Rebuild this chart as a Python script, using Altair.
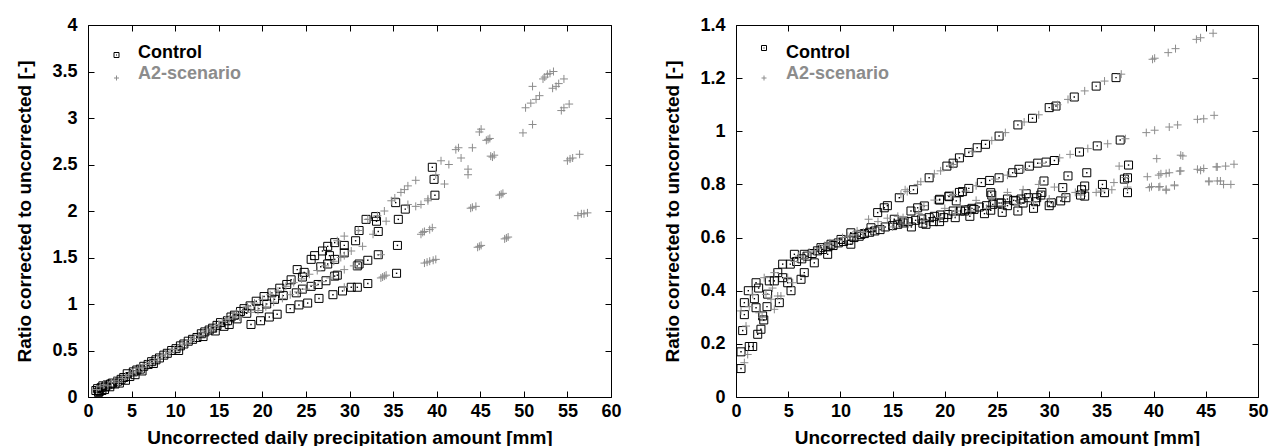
import altair as alt
import pandas as pd

FONT = "Liberation Sans"
GRAY = "#8c8c8c"

# ---------------- Left panel ----------------
ctrl_L = [
    (0.9, 0.07), (1.1, 0.09), (1.2, 0.05), (1.3, 0.06), (1.5, 0.10), (1.6, 0.07), (1.7, 0.12), (1.9, 0.08),
    (2.0, 0.11), (2.2, 0.13), (2.5, 0.11), (2.6, 0.14), (2.8, 0.15), (3.1, 0.14), (3.4, 0.17), (3.6, 0.15),
    (3.8, 0.19), (4.1, 0.21), (4.3, 0.18), (4.5, 0.25), (4.8, 0.22), (5.2, 0.27), (5.4, 0.24), (5.6, 0.29),
    (6.0, 0.30), (6.2, 0.28), (6.4, 0.33), (6.9, 0.35), (7.3, 0.38), (7.5, 0.36), (7.8, 0.40), (8.2, 0.42),
    (8.7, 0.45), (9.1, 0.47), (9.6, 0.50), (10.1, 0.52), (10.4, 0.50), (10.6, 0.55), (11.0, 0.57), (11.5, 0.60),
    (12.0, 0.62), (12.5, 0.64), (13.0, 0.68), (13.2, 0.65), (13.4, 0.70), (13.9, 0.72), (14.3, 0.74), (14.6, 0.71),
    (14.8, 0.77), (15.2, 0.80), (15.6, 0.76), (16.0, 0.82), (16.2, 0.78), (16.4, 0.86), (16.8, 0.88), (17.1, 0.84),
    (17.5, 0.92), (17.9, 0.95), (18.2, 0.90), (18.6, 0.98), (18.7, 0.78), (19.3, 1.03), (19.6, 0.95), (19.8, 0.82),
    (20.2, 1.08), (20.5, 1.00), (20.8, 0.86), (21.1, 1.12), (21.4, 1.05), (21.7, 0.89), (22.0, 1.17), (22.4, 1.09),
    (22.8, 1.21), (23.2, 0.95), (23.3, 1.26), (23.9, 1.12), (24.0, 1.37), (24.2, 0.99), (24.6, 1.29), (24.6, 1.16),
    (24.8, 1.34), (25.2, 1.01), (25.6, 1.19), (25.6, 1.48), (26.0, 1.52), (26.4, 1.21), (26.5, 1.06), (26.7, 1.40),
    (26.9, 1.57), (27.3, 1.25), (27.5, 1.43), (27.5, 1.62), (27.7, 1.52), (28.1, 1.10), (28.3, 1.30), (28.3, 1.48),
    (28.3, 1.66), (28.6, 1.31), (29.2, 1.14), (29.4, 1.55), (29.4, 1.63), (30.2, 1.18), (30.7, 1.68), (30.9, 1.18),
    (30.9, 1.41), (31.1, 1.43), (31.1, 1.79), (31.9, 1.91), (32.1, 1.22), (32.1, 1.47), (33.0, 1.94), (33.1, 1.89),
    (33.3, 1.53), (33.3, 1.78), (35.3, 2.09), (35.4, 1.33), (35.5, 1.63), (35.6, 1.91), (36.4, 2.02), (39.5, 2.47),
    (39.7, 2.34), (39.8, 2.17),
]

a2_L = [
    (1.0, 0.08), (1.4, 0.11), (1.8, 0.13), (2.3, 0.12), (2.7, 0.16), (3.0, 0.18), (3.5, 0.16), (3.9, 0.20),
    (4.3, 0.22), (4.7, 0.24), (5.1, 0.26), (5.5, 0.28), (5.9, 0.31), (6.3, 0.32), (6.7, 0.35), (7.1, 0.37),
    (7.6, 0.39), (8.0, 0.41), (8.5, 0.44), (8.9, 0.46), (9.4, 0.48), (9.9, 0.51), (10.3, 0.53), (10.8, 0.56),
    (11.3, 0.58), (11.8, 0.61), (12.2, 0.63), (12.7, 0.66), (13.2, 0.69), (13.6, 0.71), (14.1, 0.73), (14.6, 0.76),
    (15.0, 0.78), (15.4, 0.81), (15.8, 0.83), (16.2, 0.84), (16.6, 0.87), (17.0, 0.90), (17.4, 0.86), (17.8, 0.93),
    (18.3, 0.97), (18.7, 0.91), (19.1, 1.01), (19.5, 0.93), (20.0, 1.05), (20.4, 0.97), (20.9, 1.10), (21.3, 1.02),
    (21.8, 1.14), (22.3, 1.06), (22.7, 1.19), (23.2, 1.10), (23.6, 1.23), (24.1, 1.13), (24.5, 1.27), (25.0, 1.16),
    (25.4, 1.32), (25.9, 1.20), (26.3, 1.36), (26.8, 1.24), (27.2, 1.41), (27.8, 1.28), (28.2, 1.46), (28.6, 1.68),
    (29.0, 1.50), (29.4, 1.73), (29.4, 1.18), (29.4, 1.37), (29.4, 1.52), (30.2, 1.57), (30.5, 1.41), (31.0, 1.79),
    (31.5, 1.62), (32.1, 1.91), (32.7, 1.75), (33.2, 1.95), (33.6, 1.53), (33.6, 1.28), (33.8, 1.29), (34.0, 2.00),
    (34.0, 1.30), (34.2, 1.31), (34.2, 1.89), (34.8, 2.11), (35.2, 2.14), (35.9, 2.20), (36.3, 2.23), (36.7, 2.27),
    (36.7, 2.07), (37.6, 2.33), (37.6, 2.05), (38.2, 1.75), (38.2, 2.07), (38.4, 1.77), (38.6, 1.44), (38.6, 1.78),
    (38.9, 1.45), (39.0, 2.11), (39.0, 2.13), (39.2, 1.80), (39.2, 1.46), (39.5, 1.82), (39.6, 1.47), (39.9, 1.48),
    (39.9, 2.39), (40.5, 2.54), (40.9, 2.29), (41.4, 2.50), (42.2, 2.66), (42.5, 2.68), (42.8, 2.57), (43.6, 2.45),
    (43.6, 2.39), (43.9, 2.03), (44.1, 2.68), (44.1, 2.04), (44.5, 2.05), (44.7, 1.61), (44.9, 1.62), (44.9, 2.85),
    (45.1, 2.88), (45.1, 1.63), (45.7, 2.76), (45.9, 2.77), (46.1, 2.78), (46.2, 2.59), (46.4, 2.58), (46.6, 2.60),
    (47.2, 2.17), (47.4, 2.18), (47.6, 2.19), (47.8, 1.70), (48.0, 1.71), (48.2, 1.72), (49.9, 2.84), (50.2, 3.11),
    (50.8, 3.16), (51.0, 2.93), (51.0, 3.34), (51.4, 3.20), (51.8, 3.24), (52.2, 3.42), (52.4, 3.44), (52.7, 3.47),
    (53.0, 3.48), (53.4, 3.50), (53.3, 3.32), (53.7, 3.34), (54.0, 3.37), (54.3, 3.08), (54.6, 3.42), (54.6, 3.11),
    (55.0, 2.54), (55.2, 3.15), (55.3, 2.56), (55.6, 2.57), (56.2, 1.95), (56.4, 2.61), (56.6, 1.97), (56.9, 1.97),
    (57.3, 1.98),
]

# ---------------- Right panel ----------------
ctrl_R = [
    (0.48, 0.107), (0.48, 0.17), (0.64, 0.25), (0.80, 0.31), (0.80, 0.355), (1.27, 0.19), (1.6, 0.19), (1.18, 0.40),
    (1.76, 0.37), (1.92, 0.43), (2.17, 0.41), (1.92, 0.336), (2.08, 0.236), (2.39, 0.255), (2.55, 0.305),
    (2.66, 0.29), (2.97, 0.34), (3.03, 0.387), (3.19, 0.437), (3.67, 0.437), (4.15, 0.355), (4.0, 0.468),
    (4.47, 0.50), (4.47, 0.449), (4.95, 0.43), (5.27, 0.40), (5.59, 0.537), (6.23, 0.443), (6.54, 0.468),
    (6.54, 0.537), (7.5, 0.505), (8.14, 0.562), (8.78, 0.537), (9.1, 0.575), (10.06, 0.593), (11.0, 0.618),
    (11.0, 0.575), (11.97, 0.612), (12.93, 0.637), (13.57, 0.694), (14.2, 0.712), (14.5, 0.72), (15.16, 0.669),
    (15.64, 0.75), (16.1, 0.662), (16.76, 0.70), (17.0, 0.78), (17.4, 0.712), (18.04, 0.719), (17.9, 0.654),
    (18.5, 0.825), (18.9, 0.66), (19.5, 0.741), (19.9, 0.675), (20.2, 0.869), (20.4, 0.756), (20.8, 0.88),
    (21.4, 0.90), (21.4, 0.77),
    (5.2, 0.50), (5.8, 0.51), (6.3, 0.52), (6.8, 0.53), (7.3, 0.54), (7.8, 0.55), (8.3, 0.555), (8.8, 0.565),
    (9.3, 0.57), (9.8, 0.58), (10.3, 0.585), (10.8, 0.59), (11.3, 0.60), (11.8, 0.605), (12.3, 0.615),
    (12.8, 0.62), (13.3, 0.625), (13.8, 0.63),
    (22.3, 0.92), (23.1, 0.938), (23.9, 0.951), (25.2, 0.982), (27.0, 1.024), (28.4, 1.049), (30.0, 1.089),
    (30.65, 1.095), (32.4, 1.129), (34.5, 1.17), (36.4, 1.202),
    (19.5, 0.744), (20.4, 0.754), (21.7, 0.773), (22.3, 0.785), (23.5, 0.807), (24.3, 0.815), (25.2, 0.825),
    (26.5, 0.844), (27.1, 0.857), (28.1, 0.869), (28.9, 0.88), (29.7, 0.884), (30.5, 0.89), (32.9, 0.922),
    (34.6, 0.945), (36.8, 0.967),
    (29.5, 0.813), (24.4, 0.769), (21.1, 0.738), (37.6, 0.873), (33.6, 0.844), (31.8, 0.832), (37.5, 0.825),
    (37.2, 0.82), (35.1, 0.80), (33.4, 0.794), (35.3, 0.769), (37.5, 0.769), (33.4, 0.756), (31.3, 0.788),
    (31.6, 0.75), (31.1, 0.738), (30.2, 0.731), (29.3, 0.77), (33.1, 0.78), (26.8, 0.738), (26.0, 0.745),
    (24.4, 0.703), (22.8, 0.706), (20.3, 0.687), (21.9, 0.70), (26.0, 0.72), (25.4, 0.73), (28.8, 0.75),
    (29.2, 0.76), (27.8, 0.765),
    (14.3, 0.64), (15.0, 0.645), (15.5, 0.65), (16.0, 0.655), (16.5, 0.66), (17.2, 0.665), (17.8, 0.67),
    (18.5, 0.675), (19.0, 0.68), (19.6, 0.685), (20.8, 0.70), (21.5, 0.70), (22.0, 0.705), (22.6, 0.71),
    (23.3, 0.715), (24.0, 0.72), (24.6, 0.725), (25.2, 0.73), (26.6, 0.74), (27.3, 0.745), (28.0, 0.75),
    (28.7, 0.735), (22.4, 0.68), (23.8, 0.69), (25.5, 0.695), (27.0, 0.70), (28.5, 0.71), (30.0, 0.72),
    (33.0, 0.76), (24.5, 0.76), (27.5, 0.73), (19.5, 0.66), (21.0, 0.675), (16.8, 0.64), (18.2, 0.65),
]

a2_R = [
    (0.8, 0.129), (1.12, 0.16), (0.96, 0.267), (0.48, 0.324), (1.27, 0.34), (1.6, 0.386), (2.23, 0.317),
    (2.5, 0.30), (2.87, 0.386), (3.35, 0.368), (3.67, 0.33), (3.5, 0.41), (4.0, 0.38), (4.3, 0.38), (2.7, 0.449),
    (3.67, 0.468), (4.95, 0.45), (5.43, 0.43), (5.6, 0.51), (6.5, 0.52), (7.5, 0.55), (8.5, 0.57), (9.7, 0.59),
    (10.7, 0.605), (11.6, 0.625), (12.7, 0.669), (13.6, 0.66), (14.5, 0.673), (15.5, 0.68), (15.8, 0.763),
    (16.4, 0.773), (17.4, 0.80), (17.7, 0.81), (19.0, 0.741), (19.6, 0.851), (20.6, 0.758), (21.0, 0.70),
    (6.0, 0.53), (7.0, 0.545), (8.0, 0.56), (9.0, 0.58), (10.2, 0.60), (11.2, 0.61), (12.2, 0.62), (13.1, 0.63),
    (14.0, 0.64),
    (16.2, 0.78), (19.0, 0.84), (20.8, 0.875), (22.6, 0.925), (24.5, 0.965), (25.8, 0.995), (27.6, 1.035),
    (29.0, 1.062), (30.8, 1.10), (31.8, 1.12), (33.4, 1.152), (35.3, 1.189), (36.9, 1.215), (39.9, 1.271),
    (40.1, 1.275), (41.4, 1.296), (42.1, 1.311), (44.1, 1.346), (44.5, 1.352), (45.7, 1.369),
    (18.0, 0.72), (20.8, 0.762), (22.0, 0.775), (23.0, 0.795), (24.8, 0.82), (26.0, 0.835), (27.6, 0.86),
    (29.3, 0.88), (31.0, 0.90), (32.0, 0.913), (33.7, 0.935), (35.6, 0.953), (37.3, 0.972), (39.3, 0.995),
    (40.1, 1.004), (41.5, 1.016), (42.3, 1.024), (44.2, 1.045), (44.8, 1.047), (45.8, 1.06),
    (15.0, 0.64), (16.5, 0.65), (18.0, 0.665), (19.5, 0.675), (21.0, 0.69), (22.5, 0.70), (24.0, 0.71),
    (25.5, 0.72), (27.0, 0.725), (28.5, 0.735), (30.0, 0.745), (31.5, 0.755), (33.0, 0.76), (34.5, 0.77),
    (36.0, 0.78), (37.5, 0.79), (36.2, 0.807), (35.0, 0.775), (32.5, 0.77), (30.5, 0.79), (29.0, 0.80),
    (27.5, 0.78), (26.0, 0.77), (24.5, 0.75), (23.0, 0.74), (21.5, 0.72), (20.0, 0.71), (17.5, 0.69), (16.0, 0.675),
    (36.7, 0.869), (40.3, 0.897), (42.8, 0.907), (42.6, 0.91), (39.4, 0.829), (40.5, 0.835), (40.7, 0.84),
    (41.2, 0.841), (41.5, 0.844), (42.5, 0.85), (42.6, 0.851), (44.2, 0.857), (44.5, 0.853), (44.8, 0.86),
    (46.0, 0.866), (46.1, 0.866), (46.9, 0.869), (47.7, 0.876), (39.8, 0.792), (39.6, 0.788), (40.5, 0.79),
    (40.6, 0.792), (41.2, 0.782), (41.2, 0.778), (42.0, 0.798), (42.0, 0.795), (45.3, 0.813), (45.3, 0.81),
    (46.1, 0.813), (46.4, 0.813), (46.7, 0.80), (47.4, 0.80), (37.3, 0.826),
]

xticks_L = [0, 5, 10, 15, 20, 25, 30, 35, 40, 45, 50, 55, 60]
yticks_L = [0, 0.5, 1, 1.5, 2, 2.5, 3, 3.5, 4]
xticks_R = [0, 5, 10, 15, 20, 25, 30, 35, 40, 45, 50]
yticks_R = [0, 0.2, 0.4, 0.6, 0.8, 1, 1.2, 1.4]

legend_labels = ["Control", "A2-scenario"]

X_TITLE = "Uncorrected daily precipitation amount [mm]"
Y_TITLE = "Ratio corrected to uncorrected [-]"

PLUS = "M-1,0L1,0M0,-1L0,1"


def to_df(pts):
    return pd.DataFrame({"x": [p[0] for p in pts], "y": [p[1] for p in pts]})


def panel(cpts, apts, xdom, ydom, xt, yt, w, h, leg):
    dc = to_df(cpts)
    da = to_df(apts)
    xs = alt.Scale(domain=xdom, nice=False, zero=False)
    ys = alt.Scale(domain=ydom, nice=False, zero=False)
    common = dict(offset=-6, tickSize=6, domain=False, grid=False, tickColor="black", tickWidth=1,
                  labelFont=FONT, labelFontSize=18, labelFontWeight="bold", labelColor="black",
                  titleFont=FONT, titleFontSize=19, titleFontWeight="bold", titleColor="black", format="~g")
    xax = alt.Axis(values=xt, title=X_TITLE, labelPadding=5, titlePadding=8, labelFlush=False, **common)
    yax = alt.Axis(values=yt, title=Y_TITLE, labelPadding=11, titlePadding=17, **common)

    enc = dict(x=alt.X("x:Q", scale=xs, axis=xax), y=alt.Y("y:Q", scale=ys, axis=yax))
    sq = alt.Chart(dc).mark_point(shape="square", filled=False, size=64, color="black",
                                  strokeWidth=1, opacity=1).encode(**enc)
    dot = alt.Chart(dc).mark_point(shape="square", filled=True, size=2, color="black", opacity=1).encode(**enc)
    pl = alt.Chart(da).mark_point(shape=PLUS, filled=False, size=64, color=GRAY,
                                  strokeWidth=1, opacity=1).encode(**enc)
    main = alt.layer(sq, dot, pl)

    mirror = alt.Chart(dc).mark_point(opacity=0).encode(
        x=alt.X("x:Q", scale=xs, axis=alt.Axis(values=xt, orient="top", labels=False, title=None, **common)),
        y=alt.Y("y:Q", scale=ys, axis=alt.Axis(values=yt, orient="right", labels=False, title=None, **common)))

    (sx, sy1, sy2, tx, ty1, ty2) = leg
    lt1 = alt.Chart(pd.DataFrame({"t": [legend_labels[0]]})).mark_text(
        align="left", baseline="middle", font=FONT, fontSize=18, fontWeight="bold", color="black").encode(
        text="t:N", x=alt.value(tx), y=alt.value(ty1))
    lt2 = alt.Chart(pd.DataFrame({"t": [legend_labels[1]]})).mark_text(
        align="left", baseline="middle", font=FONT, fontSize=18, fontWeight="bold", color=GRAY).encode(
        text="t:N", x=alt.value(tx), y=alt.value(ty2))
    ls = alt.Chart(pd.DataFrame({"t": [legend_labels[0]]})).mark_point(
        shape="square", filled=False, size=25, color="black", strokeWidth=1, opacity=1).encode(
        x=alt.value(sx), y=alt.value(sy1))
    ld = alt.Chart(pd.DataFrame({"t": [legend_labels[0]]})).mark_point(
        shape="square", filled=True, size=1, color="black", opacity=1).encode(
        x=alt.value(sx), y=alt.value(sy1))
    lp = alt.Chart(pd.DataFrame({"t": [legend_labels[1]]})).mark_point(
        shape=PLUS, filled=False, size=25, color=GRAY, strokeWidth=1, opacity=1).encode(
        x=alt.value(sx), y=alt.value(sy2))

    return alt.layer(main, mirror, lt1, lt2, ls, ld, lp).resolve_scale(
        x="independent", y="independent").properties(width=w, height=h)


left = panel(ctrl_L, a2_L, [0, 60], [0, 4], xticks_L, yticks_L, 523, 372,
             (28.5, 30, 53, 50, 28, 49))
right = panel(ctrl_R, a2_R, [0, 50], [0, 1.4], xticks_R, yticks_R, 522, 372,
              (28, 23, 53, 50, 28, 49))

chart = alt.hconcat(left, right, spacing=41).properties(
    padding={"left": 15, "top": 15, "right": 0, "bottom": 0}
).configure_view(stroke="black", strokeWidth=1)

chart.save("out.html", embed_options={"renderer": "svg", "actions": False})
